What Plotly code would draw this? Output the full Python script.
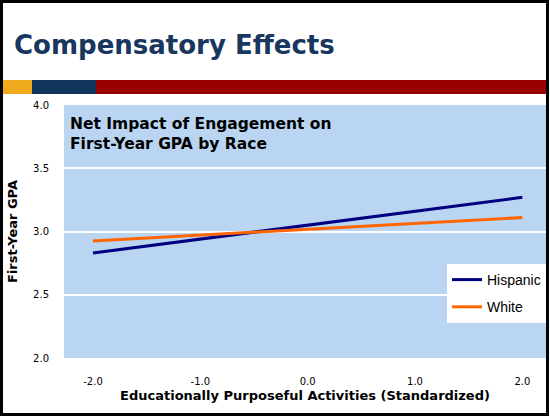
import plotly.graph_objects as go

# Data
x_vals = [-2.0, 2.0]
hispanic = [2.83, 3.27]
white = [2.925, 3.11]
x_ticks = [-2.0, -1.0, 0.0, 1.0, 2.0]
x_tick_labels = ["-2.0", "-1.0", "0.0", "1.0", "2.0"]
y_ticks = [2.0, 2.5, 3.0, 3.5, 4.0]
y_tick_labels = ["2.0", "2.5", "3.0", "3.5", "4.0"]

fig = go.Figure()
fig.add_trace(go.Scatter(x=x_vals, y=hispanic, mode="lines", name="Hispanic", legendgroup="h",
                         line=dict(color="#000080", width=3)))
fig.add_trace(go.Scatter(x=x_vals, y=white, mode="lines", name="White", legendgroup="w",
                         line=dict(color="#FF6600", width=3)))

W, H = 550, 417
L, R, T, B = 64, 4, 105, 59
PW, PH = W - L - R, H - T - B


def px(xp):
    return (xp - L) / PW


def py(yp):
    return (H - B - yp) / PH


fig.update_layout(
    width=W, height=H,
    margin=dict(l=L, r=R, t=T, b=B, autoexpand=False),
    paper_bgcolor="white",
    plot_bgcolor="#B9D5F2",
    showlegend=True,
    legend=dict(x=px(447), xanchor="left", y=py(323), yanchor="bottom",
                bgcolor="white", font=dict(family="Liberation Sans, Arial", size=14, color="black"),
                itemwidth=30, tracegroupgap=6),
    xaxis=dict(range=[-2.27, 2.22], tickvals=x_ticks, ticktext=x_tick_labels,
               showgrid=False, zeroline=False, showline=False, ticks="", automargin=False,
               ticklabelstandoff=16,
               tickfont=dict(family="DejaVu Sans, Verdana", size=10, color="black"),
               title=dict(text="<b>Educationally Purposeful Activities (Standardized)</b>",
                          font=dict(family="DejaVu Sans, Verdana", size=13, color="black"),
                          standoff=4)),
    yaxis=dict(range=[2.0, 4.0], tickvals=y_ticks, ticktext=y_tick_labels,
               showgrid=True, gridcolor="white", gridwidth=2, zeroline=False,
               showline=False, ticks="", ticklabelstandoff=14, automargin=False,
               tickfont=dict(family="DejaVu Sans, Verdana", size=10, color="black"),
               title=dict(text="<b>First-Year GPA</b>",
                          font=dict(family="DejaVu Sans, Verdana", size=13, color="black"),
                          standoff=12)),
)

# Chart title inside plot area
fig.add_annotation(xref="paper", yref="paper", x=px(68), y=py(113), xanchor="left", yanchor="top",
                   text="<b>Net Impact of Engagement on<br>First-Year GPA by Race</b>",
                   showarrow=False, align="left",
                   font=dict(family="DejaVu Sans, Verdana", size=15.5, color="black"))

# Slide title
fig.add_annotation(xref="paper", yref="paper", x=px(12), y=py(45), xanchor="left", yanchor="middle",
                   text="<b>Compensatory Effects</b>", showarrow=False,
                   font=dict(family="DejaVu Sans, Verdana", size=26, color="#17375E"))

# Decorative color bar
bars = [(3, 32, "#F0AA1E"), (32, 96, "#12355E"), (96, 547, "#990000")]
for x0, x1, c in bars:
    fig.add_shape(type="rect", xref="paper", yref="paper",
                  x0=px(x0), x1=px(x1), y0=py(94), y1=py(80),
                  fillcolor=c, line=dict(width=0), layer="above")

# Outer black border
fig.add_shape(type="rect", xref="paper", yref="paper",
              x0=px(1.5), x1=px(W - 2.5), y0=py(H - 2.5), y1=py(1.5),
              line=dict(color="black", width=3), fillcolor="rgba(0,0,0,0)", layer="above")

fig.write_html("out.html", config={"displayModeBar": False},
               post_script="document.body.style.margin='0';document.body.style.padding='0';")
